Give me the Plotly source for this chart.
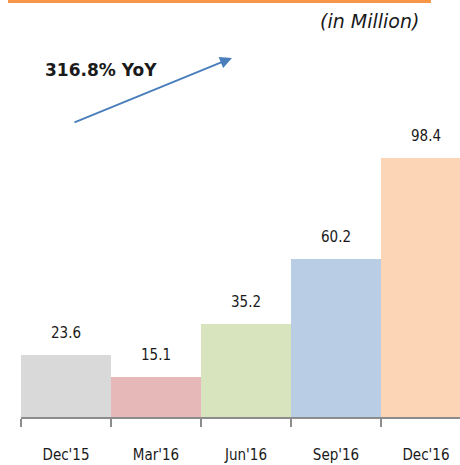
import plotly.graph_objects as go

categories = ["Dec'15", "Mar'16", "Jun'16", "Sep'16", "Dec'16"]
values = [23.6, 15.1, 35.2, 60.2, 98.4]
value_labels = ["23.6", "15.1", "35.2", "60.2", "98.4"]
colors = ["#d9d9d9", "#e6b9b8", "#d7e4bd", "#b9cde5", "#fbd5b5"]

W, H = 460, 465
fig = go.Figure()
fig.add_trace(go.Bar(
    x=categories, y=values, marker=dict(color=colors, line=dict(width=0)),
    width=1.0, hoverinfo="skip",
))

lab_font = "Liberation Sans Narrow, DejaVu Sans Condensed, Arial"
for c, v, t in zip(categories, values, value_labels):
    fig.add_annotation(x=c, y=v, xref="x", yref="y", text=t, showarrow=False,
                       yshift=22, font=dict(family=lab_font, size=15, color="#1a1a1a"))

fig.update_layout(
    width=W, height=H, margin=dict(l=0, r=0, t=0, b=0),
    paper_bgcolor="white", plot_bgcolor="white", showlegend=False,
    bargap=0,
    xaxis=dict(domain=[21 / W, 1], range=[-0.5, 4.378], type="category",
               showline=True, linecolor="#8c8c8c", linewidth=2,
               ticks="outside", tickson="boundaries", ticklen=8, tickcolor="#8c8c8c", tickwidth=1.5,
               tickfont=dict(family=lab_font, size=15, color="#1a1a1a"),
               ticklabelstandoff=23, showgrid=False, zeroline=False, automargin=False, fixedrange=True),
    yaxis=dict(domain=[48 / H, 1], range=[0, 158.4], visible=False, showgrid=False,
               zeroline=False, automargin=False, fixedrange=True),
)

# orange top rule
fig.add_shape(type="rect", xref="paper", yref="paper", x0=8 / W, x1=431 / W,
              y0=1 - 3 / H, y1=1.0, line=dict(width=0), fillcolor="#f79646")

fig.add_annotation(xref="paper", yref="paper", x=421 / W, y=1 - 21 / H, xanchor="right", yanchor="middle",
                   text="<i>(in Million)</i>", showarrow=False,
                   font=dict(family="DejaVu Sans, Arial", size=19, color="#1a1a1a"))
fig.add_annotation(xref="paper", yref="paper", x=43 / W, y=1 - 70 / H, xanchor="left", yanchor="middle",
                   text="<b>316.8% YoY</b>", showarrow=False,
                   font=dict(family="DejaVu Sans, Arial", size=17, color="#1a1a1a"))
# arrow
fig.add_annotation(xref="paper", yref="paper", x=232 / W, y=1 - 58 / H, ax=-159, ay=65,
                   axref="pixel", ayref="pixel", text="", showarrow=True,
                   arrowhead=2, arrowsize=1.2, arrowwidth=2, arrowcolor="#4a7ebb")

fig.write_html("out.html", config={"displayModeBar": False, "staticPlot": True},
               post_script="document.body.style.margin='0';document.body.style.overflow='hidden';")
